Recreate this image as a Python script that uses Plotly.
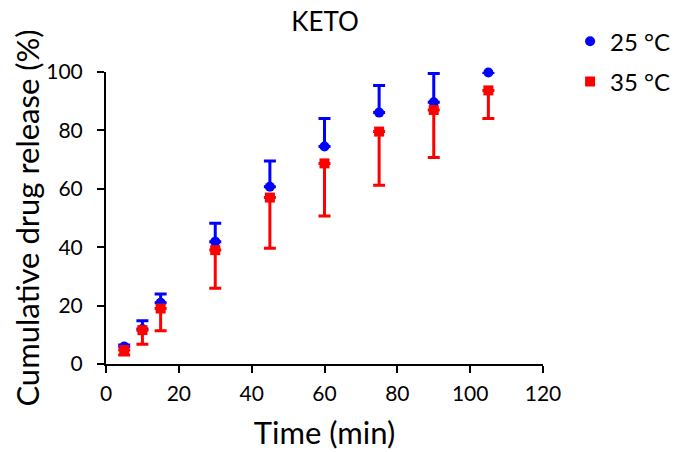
import plotly.graph_objects as go

time_min = [5, 10, 15, 30, 45, 60, 75, 90, 105]
release_25 = [6.0, 12.0, 21.0, 41.9, 60.7, 74.5, 86.1, 89.6, 99.8]
sd_25 = [0.5, 2.8, 3.0, 6.3, 8.8, 9.6, 9.3, 9.9, 0.0]
release_35 = [4.8, 11.6, 19.0, 39.0, 57.0, 68.7, 79.6, 87.0, 93.7]
sd_35 = [1.7, 4.8, 7.6, 13.1, 17.4, 18.0, 18.4, 16.3, 9.6]
zeros = [0] * len(time_min)

FONT = "Lato, 'Open Sans', sans-serif"

fig = go.Figure()
fig.add_trace(go.Scatter(
    x=time_min, y=release_25, mode="markers", name="25 °C",
    legendgroup="a", cliponaxis=False,
    marker=dict(symbol="circle", size=10, color="#0000ff"),
    error_y=dict(type="data", symmetric=False, array=sd_25, arrayminus=zeros,
                 color="#0000ff", thickness=3, width=6),
))
fig.add_trace(go.Scatter(
    x=time_min, y=release_35, mode="markers", name="35 °C",
    legendgroup="b", cliponaxis=False,
    marker=dict(symbol="square", size=10, color="#ff0000"),
    error_y=dict(type="data", symmetric=False, array=zeros, arrayminus=sd_35,
                 color="#ff0000", thickness=3, width=6),
))

# page body has an 8px margin; margins are offset to compensate
fig.update_layout(
    width=688, height=452,
    margin=dict(l=98, r=153, t=64, b=96, autoexpand=False),
    paper_bgcolor="white", plot_bgcolor="white",
    font=dict(family=FONT, color="black"),
    title=dict(text="KETO", x=317/688, xanchor="center", y=1-14/452, yanchor="middle",
               font=dict(size=26, family=FONT, color="black")),
    legend=dict(x=1.062, xanchor="left", y=1.181, yanchor="top",
                font=dict(size=24, family=FONT), traceorder="grouped",
                tracegroupgap=6, bgcolor="rgba(0,0,0,0)"),
    xaxis=dict(range=[0, 120], tickvals=[0, 20, 40, 60, 80, 100, 120],
               showline=True, linecolor="black", linewidth=2,
               ticks="outside", ticklen=7, tickwidth=2, tickcolor="black",
               showgrid=False, zeroline=False, automargin=False,
               ticklabelstandoff=3,
               tickfont=dict(size=21, family=FONT),
               title=dict(text="Time (min)", font=dict(size=31, family=FONT), standoff=18)),
    yaxis=dict(range=[0, 100], tickvals=[0, 20, 40, 60, 80, 100],
               showline=True, linecolor="black", linewidth=2,
               ticks="outside", ticklen=7, tickwidth=2, tickcolor="black",
               showgrid=False, zeroline=False, automargin=False,
               ticklabelstandoff=10,
               tickfont=dict(size=21, family=FONT),
               title=dict(text="Cumulative drug release (%)", font=dict(size=31, family=FONT), standoff=4)),
)

fig.write_html("out.html")
